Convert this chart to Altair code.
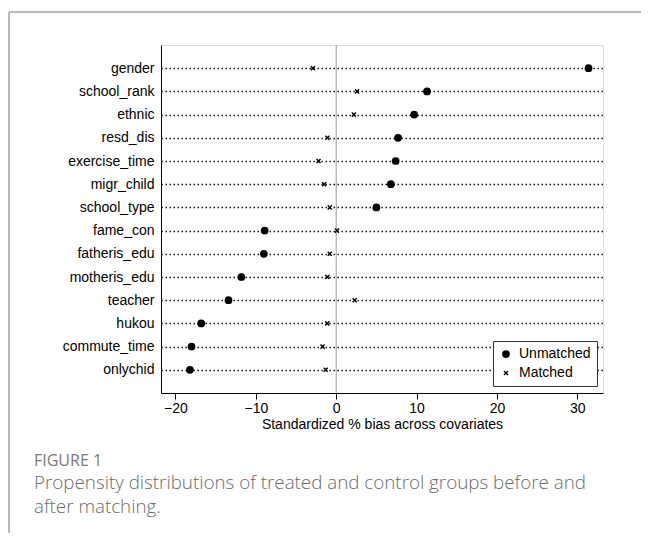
import altair as alt
import pandas as pd

covariates = ['gender', 'school_rank', 'ethnic', 'resd_dis', 'exercise_time', 'migr_child',
              'school_type', 'fame_con', 'fatheris_edu', 'motheris_edu', 'teacher', 'hukou',
              'commute_time', 'onlychid']
unmatched = [31.4, 11.3, 9.7, 7.7, 7.4, 6.8, 5.0, -8.9, -9.0, -11.8, -13.4, -16.8, -18.0, -18.2]
matched = [-2.9, 2.6, 2.2, -1.1, -2.2, -1.5, -0.8, 0.1, -0.8, -1.1, 2.3, -1.1, -1.7, -1.3]
series_names = ['Unmatched', 'Matched']
x_ticks = [-20, -10, 0, 10, 20, 30]
x_title = 'Standardized % bias across covariates'
fig_label = 'FIGURE 1'
caption_lines = ['Propensity distributions of treated and control groups before and',
                 'after matching.']

rows = []
for c, u, m in zip(covariates, unmatched, matched):
    rows.append({'var': c, 'bias': u, 'series': 'Unmatched'})
    rows.append({'var': c, 'bias': m, 'series': 'Matched'})
df = pd.DataFrame(rows)

W, H = 442, 348
XPATH = 'M-1,-0.6L-0.6,-1L0,-0.4L0.6,-1L1,-0.6L0.4,0L1,0.6L0.6,1L0,0.4L-0.6,1L-1,0.6L-0.4,0Z'
FONT = 'Liberation Sans, Arial, Helvetica, sans-serif'

xscale = alt.Scale(domain=[-21.8, 33.2], nice=False, zero=False)
yenc = alt.Y('var:N', sort=covariates, scale=alt.Scale(padding=1.17),
             axis=alt.Axis(title=None, ticks=False, labelPadding=7, grid=True,
                           gridDash=[1.4, 2.6], gridColor='black', gridWidth=1.4,
                           domainColor='black', labelFontSize=14, labelColor='black',
                           labelFont=FONT))

zero = alt.Chart(pd.DataFrame({'z': [0]})).mark_rule(color='#9a9a9a', strokeWidth=1).encode(
    x=alt.X('z:Q', scale=xscale)
)

leg = alt.Legend(title=None, orient='none', legendX=332, legendY=296,
                 strokeColor='#333', fillColor='white', padding=6,
                 labelFontSize=14, labelFont=FONT,
                 labelColor='black', rowPadding=5, labelOffset=6)

points = alt.Chart(df).mark_point(filled=True, opacity=1, color='black').encode(
    x=alt.X('bias:Q', scale=xscale,
            axis=alt.Axis(values=x_ticks, title=x_title, grid=False, tickSize=6,
                          tickColor='black', domainColor='black', labelFontSize=14,
                          labelColor='black', labelFont=FONT,
                          titleFontSize=14, titleFontWeight='normal', titleColor='black',
                          titleFont=FONT, titlePadding=2, labelPadding=2)),
    y=yenc,
    shape=alt.Shape('series:N', scale=alt.Scale(domain=series_names, range=['circle', XPATH]),
                    legend=leg),
    size=alt.Size('series:N', scale=alt.Scale(domain=series_names, range=[60, 26]),
                  legend=leg),
)

one = pd.DataFrame({'a': [0]})
frame_left = alt.Chart(one).mark_rule(color='#a0a0a0', strokeWidth=1.5).encode(
    x=alt.value(-152), y=alt.value(-33), y2=alt.value(500))
frame_top = alt.Chart(one).mark_rule(color='#a0a0a0', strokeWidth=1.5).encode(
    x=alt.value(-152), x2=alt.value(490), y=alt.value(-33))

fig_text = alt.Chart(pd.DataFrame({'t': [fig_label]})).mark_text(
    align='left', baseline='middle', font='Open Sans', fontSize=16, color='#7a7a7a'
).encode(x=alt.value(34 - 161), y=alt.value(461 - 45), text='t:N')

cap1 = alt.Chart(pd.DataFrame({'t': [caption_lines[0]]})).mark_text(
    align='left', baseline='middle', font='Open Sans', fontSize=18.8, fontWeight=300, color='#6b6b6b'
).encode(x=alt.value(34 - 161), y=alt.value(483 - 45), text='t:N')
cap2 = alt.Chart(pd.DataFrame({'t': [caption_lines[1]]})).mark_text(
    align='left', baseline='middle', font='Open Sans', fontSize=18.8, fontWeight=300, color='#6b6b6b'
).encode(x=alt.value(34 - 161), y=alt.value(507 - 45), text='t:N')

chart = alt.layer(zero, points, frame_left, frame_top, fig_text, cap1, cap2).properties(
    width=W, height=H,
    autosize=alt.AutoSizeParams(type='none'),
    padding={'left': 153, 'top': 37, 'right': 38, 'bottom': 140},
).configure_view(strokeOpacity=0).configure(background='white')

chart.save('out.html', embed_options={'renderer': 'svg', 'actions': False})
